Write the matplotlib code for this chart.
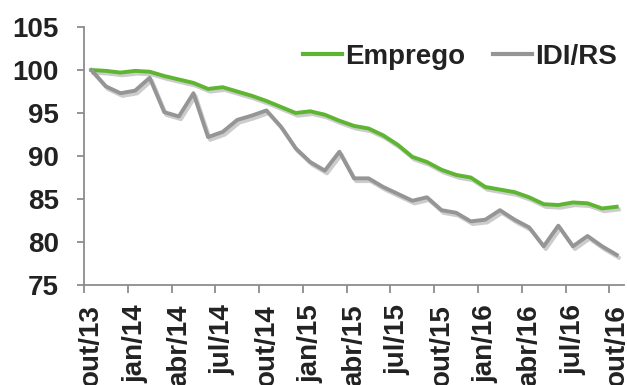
import matplotlib
matplotlib.use("Agg")
import matplotlib.pyplot as plt
import matplotlib.patheffects as pe

months = ["out/13", "nov/13", "dez/13", "jan/14", "fev/14", "mar/14", "abr/14", "mai/14", "jun/14",
          "jul/14", "ago/14", "set/14", "out/14", "nov/14", "dez/14", "jan/15", "fev/15", "mar/15",
          "abr/15", "mai/15", "jun/15", "jul/15", "ago/15", "set/15", "out/15", "nov/15", "dez/15",
          "jan/16", "fev/16", "mar/16", "abr/16", "mai/16", "jun/16", "jul/16", "ago/16", "set/16", "out/16"]

emprego = [100.0, 99.9, 99.7, 99.9, 99.8, 99.3, 98.9, 98.5, 97.8, 98.0, 97.5, 97.0, 96.4, 95.7,
           95.0, 95.2, 94.8, 94.1, 93.5, 93.2, 92.4, 91.3, 89.9, 89.3, 88.4, 87.8, 87.5, 86.4,
           86.1, 85.8, 85.2, 84.4, 84.3, 84.6, 84.5, 83.9, 84.1]

idi_rs = [100.0, 98.1, 97.3, 97.6, 99.1, 95.1, 94.6, 97.3, 92.2, 92.8, 94.2, 94.7, 95.3, 93.4,
          90.9, 89.3, 88.3, 90.5, 87.4, 87.4, 86.4, 85.6, 84.8, 85.2, 83.7, 83.4, 82.4, 82.6,
          83.7, 82.6, 81.7, 79.5, 81.9, 79.5, 80.7, 79.5, 78.5]

yticks = [75, 80, 85, 90, 95, 100, 105]

plt.rcParams['font.family'] = ['Liberation Sans', 'DejaVu Sans']
plt.rcParams['font.weight'] = 'bold'

FS = 20
TXT = '#222222'

fig = plt.figure(figsize=(6.27, 3.85), dpi=100)
ax = fig.add_axes([84/627, 1 - 285/385, (624 - 84)/627, (285 - 27)/385])

x = list(range(len(months)))
shadow = [pe.SimpleLineShadow(offset=(1.5, -2), shadow_color='black', alpha=0.2), pe.Normal()]
ax.plot(x, emprego, color='#5db531', lw=2.8, label='Emprego', path_effects=shadow, solid_joinstyle='round')
ax.plot(x, idi_rs, color='#959595', lw=2.8, label='IDI/RS', path_effects=shadow, solid_joinstyle='round')

ax.set_xlim(-0.5, len(months) - 0.5)
ax.set_ylim(75, 105)
ax.set_yticks(yticks)
ax.set_yticklabels([str(v) for v in yticks], fontsize=FS, fontweight='bold', color=TXT)

label_idx = list(range(0, len(months), 3))
ax.set_xticks(label_idx)
ax.set_xticklabels([months[i] for i in label_idx], rotation=90, fontsize=FS,
                   fontweight='bold', color=TXT)
ax.set_xticks([i - 0.5 for i in label_idx], minor=True)
ax.tick_params(axis='x', which='major', length=0, pad=14)
ax.tick_params(axis='x', which='minor', length=6, width=1.3, color='#8c8c8c', direction='out')
ax.tick_params(axis='y', length=5, width=1.3, color='#8c8c8c', direction='out', pad=13)

for s in ['top', 'right']:
    ax.spines[s].set_visible(False)
for s in ['left', 'bottom']:
    ax.spines[s].set_color('#8c8c8c')
    ax.spines[s].set_linewidth(1.3)

leg = ax.legend(loc='center', bbox_to_anchor=(460/627, 1 - 57/385), bbox_transform=fig.transFigure,
                ncol=2, frameon=False, handlelength=1.4, handletextpad=0.12, columnspacing=1.0,
                prop={'size': FS, 'weight': 'bold'})
for t in leg.get_texts():
    t.set_color(TXT)
for h in leg.get_lines():
    h.set_path_effects([])
    h.set_linewidth(3)

fig.savefig('out.png', dpi=100)
